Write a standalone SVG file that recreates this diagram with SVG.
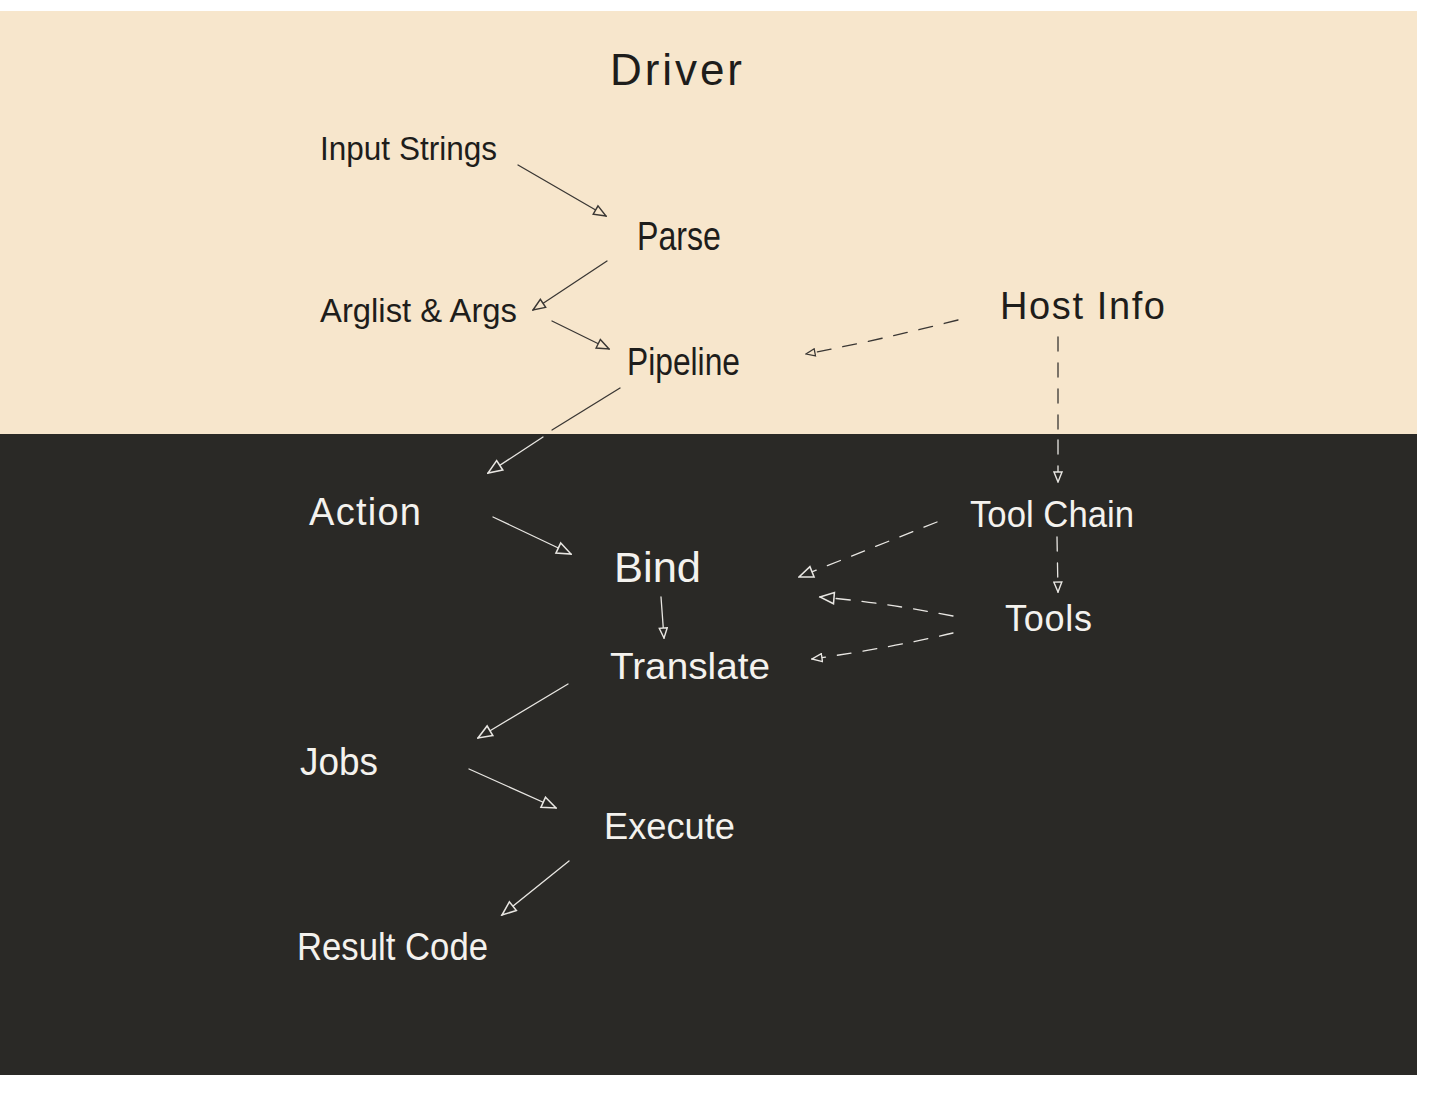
<svg xmlns="http://www.w3.org/2000/svg" width="1432" height="1102" viewBox="0 0 1432 1102">
<style>
.t{font-family:"Liberation Sans","DejaVu Sans",sans-serif;font-weight:normal}
.dk{fill:#1e1d1b}
.lt{fill:#f4f2ee}
.ed{fill:none;stroke-width:1.3;stroke-linecap:round}
.sd{stroke:#3a3734}
.sl{stroke:#e8e6e2}
.dash{stroke-dasharray:14 12}
</style>
<defs>
<marker id="ad" viewBox="0 0 12 10" refX="11" refY="5" markerWidth="15" markerHeight="12" markerUnits="userSpaceOnUse" orient="auto">
<path d="M1,1 L11,5 L1,9 Z" fill="#f7e6cc" stroke="#3a3734" stroke-width="1.2"/>
</marker>
<marker id="al" viewBox="0 0 12 10" refX="11" refY="5" markerWidth="17" markerHeight="14" markerUnits="userSpaceOnUse" orient="auto">
<path d="M1,1 L11,5 L1,9 Z" fill="#2a2926" stroke="#e8e6e2" stroke-width="1.1"/>
</marker>
<marker id="sd" viewBox="0 0 12 10" refX="11" refY="5" markerWidth="11" markerHeight="9" markerUnits="userSpaceOnUse" orient="auto">
<path d="M1,1 L11,5 L1,9 Z" fill="#f7e6cc" stroke="#3a3734" stroke-width="1.4"/>
</marker>
<marker id="sl" viewBox="0 0 12 10" refX="11" refY="5" markerWidth="12" markerHeight="10" markerUnits="userSpaceOnUse" orient="auto">
<path d="M1,1 L11,5 L1,9 Z" fill="#2a2926" stroke="#e8e6e2" stroke-width="1.4"/>
</marker>
</defs>
<rect x="0" y="0" width="1432" height="1102" fill="#ffffff"/>
<rect id="panel-driver" x="0" y="11" width="1417" height="425" fill="#f7e6cc"/>
<rect id="panel-dark" x="0" y="434" width="1417" height="641" fill="#2a2926"/>

<g id="connectors">
<line class="ed sd" x1="518" y1="165" x2="606" y2="216" marker-end="url(#ad)"/>
<line class="ed sd" x1="607" y1="261" x2="533" y2="310" marker-end="url(#ad)"/>
<line class="ed sd" x1="552" y1="321" x2="609" y2="349" marker-end="url(#ad)"/>
<line class="ed sd" x1="620" y1="388" x2="552" y2="430"/>
<line class="ed sl" x1="543" y1="437" x2="488" y2="473" marker-end="url(#al)"/>
<line class="ed sl" x1="493" y1="517" x2="571" y2="554" marker-end="url(#al)"/>
<line class="ed sl" x1="661" y1="597" x2="664" y2="638" marker-end="url(#sl)"/>
<line class="ed sl" x1="568" y1="684" x2="478" y2="738" marker-end="url(#al)"/>
<line class="ed sl" x1="469" y1="769" x2="556" y2="808" marker-end="url(#al)"/>
<line class="ed sl" x1="569" y1="861" x2="502" y2="915" marker-end="url(#al)"/>
<path class="ed sd dash" d="M958,320 Q880,340 806,354" marker-end="url(#sd)"/>
<line class="ed sd dash" x1="1058" y1="337" x2="1058" y2="432"/>
<line class="ed sl dash" x1="1058" y1="440" x2="1058" y2="482" marker-end="url(#sl)"/>
<line class="ed sl dash" x1="937" y1="522" x2="799" y2="577" marker-end="url(#al)"/>
<line class="ed sl dash" x1="1057" y1="537" x2="1058" y2="592" marker-end="url(#sl)"/>
<path class="ed sl dash" d="M953,616 Q880,602 820,597" marker-end="url(#al)"/>
<path class="ed sl dash" d="M953,633 Q890,648 812,659" marker-end="url(#sl)"/>
</g>

<g id="node-driver"><text class="t dk" x="610" y="85" font-size="44" textLength="132" lengthAdjust="spacing">Driver</text></g>
<g id="node-input-strings"><text class="t dk" x="320" y="160" font-size="34" textLength="177" lengthAdjust="spacingAndGlyphs">Input Strings</text></g>
<g id="node-parse"><text class="t dk" x="637" y="250" font-size="40" textLength="84" lengthAdjust="spacingAndGlyphs">Parse</text></g>
<g id="node-arglist"><text class="t dk" x="320" y="322" font-size="34" textLength="197" lengthAdjust="spacingAndGlyphs">Arglist &amp; Args</text></g>
<g id="node-pipeline"><text class="t dk" x="627" y="375" font-size="38" textLength="113" lengthAdjust="spacingAndGlyphs">Pipeline</text></g>
<g id="node-host-info"><text class="t dk" x="1000" y="319" font-size="38" textLength="165" lengthAdjust="spacing">Host  Info</text></g>
<g id="node-action"><text class="t lt" x="309" y="525" font-size="38" textLength="112" lengthAdjust="spacing">Action</text></g>
<g id="node-bind"><text class="t lt" x="614" y="582" font-size="42" textLength="87" lengthAdjust="spacingAndGlyphs">Bind</text></g>
<g id="node-tool-chain"><text class="t lt" x="970" y="527" font-size="36" textLength="164" lengthAdjust="spacingAndGlyphs">Tool Chain</text></g>
<g id="node-tools"><text class="t lt" x="1005" y="631" font-size="36" textLength="87" lengthAdjust="spacing">Tools</text></g>
<g id="node-translate"><text class="t lt" x="610" y="679" font-size="36" textLength="160" lengthAdjust="spacingAndGlyphs">Translate</text></g>
<g id="node-jobs"><text class="t lt" x="300" y="775" font-size="38" textLength="78" lengthAdjust="spacingAndGlyphs">Jobs</text></g>
<g id="node-execute"><text class="t lt" x="604" y="839" font-size="36" textLength="131" lengthAdjust="spacingAndGlyphs">Execute</text></g>
<g id="node-result-code"><text class="t lt" x="297" y="960" font-size="38" textLength="191" lengthAdjust="spacingAndGlyphs">Result Code</text></g>
</svg>
